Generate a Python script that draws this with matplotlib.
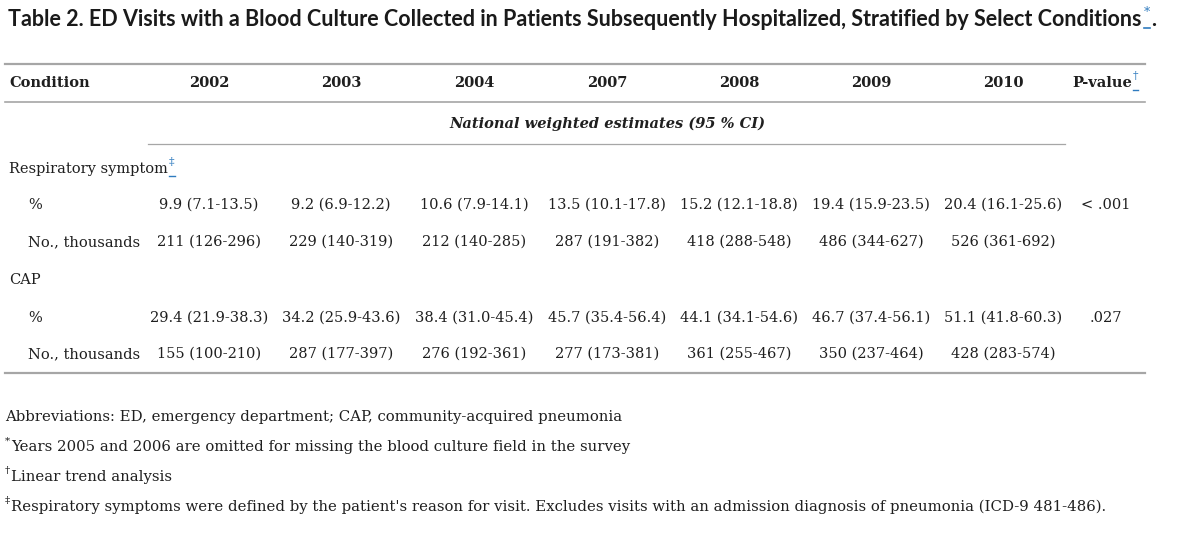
import matplotlib
matplotlib.use("Agg")
import matplotlib.pyplot as plt

# Table content
title = "Table 2. ED Visits with a Blood Culture Collected in Patients Subsequently Hospitalized, Stratified by Select Conditions"
years = ["2002", "2003", "2004", "2007", "2008", "2009", "2010"]
subheader = "National weighted estimates (95 % CI)"

resp_pct = ["9.9 (7.1-13.5)", "9.2 (6.9-12.2)", "10.6 (7.9-14.1)", "13.5 (10.1-17.8)",
            "15.2 (12.1-18.8)", "19.4 (15.9-23.5)", "20.4 (16.1-25.6)"]
resp_num = ["211 (126-296)", "229 (140-319)", "212 (140-285)", "287 (191-382)",
            "418 (288-548)", "486 (344-627)", "526 (361-692)"]
cap_pct = ["29.4 (21.9-38.3)", "34.2 (25.9-43.6)", "38.4 (31.0-45.4)", "45.7 (35.4-56.4)",
           "44.1 (34.1-54.6)", "46.7 (37.4-56.1)", "51.1 (41.8-60.3)"]
cap_num = ["155 (100-210)", "287 (177-397)", "276 (192-361)", "277 (173-381)",
           "361 (255-467)", "350 (237-464)", "428 (283-574)"]
p_values = ["< .001", ".027"]

footnotes = [
    ("", "Abbreviations: ED, emergency department; CAP, community-acquired pneumonia"),
    ("*", "Years 2005 and 2006 are omitted for missing the blood culture field in the survey"),
    ("\u2020", "Linear trend analysis"),
    ("\u2021", "Respiratory symptoms were defined by the patient's reason for visit. "
               "Excludes visits with an admission diagnosis of pneumonia (ICD-9 481-486)."),
]

# layout (pixels)
W, H = 1200, 540
col_x = [209, 341, 474, 607, 739, 871, 1003]
p_x = 1106
serif = "DejaVu Serif"
txt = "#1f1f1f"
blue = "#2f7bbf"
rule = "#a6a6a6"
fs = 10.5
fs_note = 10.75

fig = plt.figure(figsize=(12, 5.4), dpi=100)
ax = fig.add_axes([0, 0, 1, 1])
ax.set_xlim(0, W)
ax.set_ylim(H, 0)
ax.axis("off")
renderer = fig.canvas.get_renderer()


def sup_after(t, sym, color=blue, underline=True, size=8, dy=-7):
    bb = t.get_window_extent(renderer)
    x = bb.x1 + 1
    y = H - (bb.y0 + bb.y1) / 2
    s = ax.text(x, y + dy, sym, fontsize=size, color=color, family=serif,
                ha="left", va="center")
    if underline:
        sb = s.get_window_extent(renderer)
        ax.plot([sb.x0, sb.x1], [y + 7, y + 7], color=color, lw=1)
    return s


# title
t = ax.text(8, 20, title, fontsize=15.5, fontweight="bold", family="Lato",
            color="#1a1a1a", ha="left", va="center")
tb = t.get_window_extent(renderer)
sx = tb.x1 + 2
ax.text(sx, 12, "*", fontsize=9, color=blue, family=serif, ha="left", va="center")
ax.plot([sx, sx + 6], [28, 28], color=blue, lw=1.2)
ax.text(sx + 8, 20, ".", fontsize=15.5, fontweight="bold", family="Lato",
        color="#1a1a1a", ha="left", va="center")

# rules
ax.plot([5, 1145], [64, 64], color=rule, lw=1.6)
ax.plot([5, 1145], [102, 102], color=rule, lw=1.2)
ax.plot([148, 1065], [144, 144], color=rule, lw=0.9)
ax.plot([5, 1145], [373, 373], color=rule, lw=1.6)

# header
ax.text(9, 83, "Condition", fontsize=fs, fontweight="bold", family=serif,
        color=txt, ha="left", va="center")
for x, yr in zip(col_x, years):
    ax.text(x, 83, yr, fontsize=fs, fontweight="bold", family=serif,
            color=txt, ha="center", va="center")
pv = ax.text(p_x - 4, 83, "P-value", fontsize=fs, fontweight="bold", family=serif,
             color=txt, ha="center", va="center")
sup_after(pv, "\u2020")

ax.text(607, 124, subheader, fontsize=fs, fontweight="bold", style="italic",
        family=serif, color=txt, ha="center", va="center")

# body
rs = ax.text(9, 169, "Respiratory symptom", fontsize=fs, family=serif,
             color=txt, ha="left", va="center")
sup_after(rs, "\u2021")
ax.text(9, 280, "CAP", fontsize=fs, family=serif, color=txt, ha="left", va="center")

rows = [(205, "%", resp_pct, p_values[0]),
        (242, "No., thousands", resp_num, ""),
        (318, "%", cap_pct, p_values[1]),
        (354, "No., thousands", cap_num, "")]
for y, label, vals, p in rows:
    ax.text(28, y, label, fontsize=fs, family=serif, color=txt, ha="left", va="center")
    for x, v in zip(col_x, vals):
        ax.text(x, y, v, fontsize=fs, family=serif, color=txt, ha="center", va="center")
    if p:
        ax.text(p_x, y, p, fontsize=fs, family=serif, color=txt, ha="center", va="center")

# footnotes
for i, (sym, note) in enumerate(footnotes):
    y = 417 + 30 * i
    x = 5
    if sym:
        s = ax.text(x, y - 6, sym, fontsize=7.5, family=serif, color=txt,
                    ha="left", va="center")
        x = s.get_window_extent(renderer).x1 + 1
    ax.text(x, y, note, fontsize=fs_note, family=serif, color=txt, ha="left", va="center")

fig.savefig("out.png", dpi=100, facecolor="white")
